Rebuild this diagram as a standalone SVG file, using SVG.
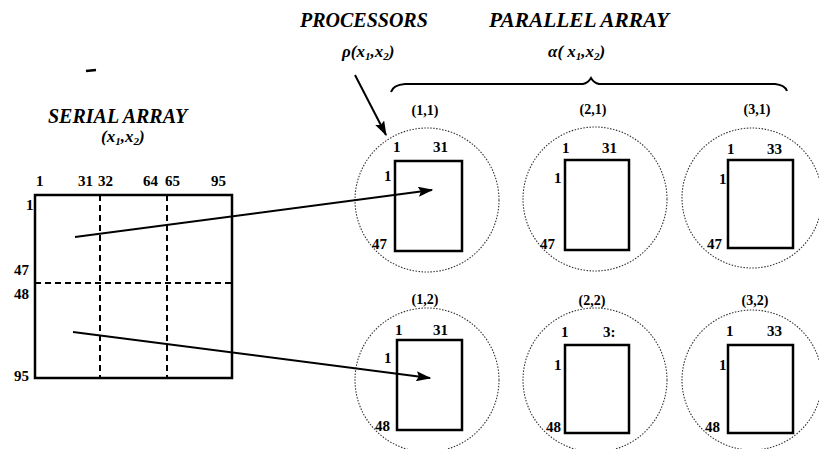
<svg xmlns="http://www.w3.org/2000/svg" width="819" height="449" viewBox="0 0 819 449">
<style>
text{font-family:"Liberation Serif","Times New Roman",serif;fill:#000;font-weight:bold}
.ttl{font-size:20px;font-style:italic}
.sub{font-size:17px;font-style:italic}
.n{font-size:15px}
.lab{font-size:14px}
.box{fill:none;stroke:#000;stroke-width:2.5}
.dash{fill:none;stroke:#000;stroke-width:2;stroke-dasharray:6 4}
.circ{fill:none;stroke:#333;stroke-width:1.1;stroke-dasharray:1.5 1.5}
.arr{fill:none;stroke:#000;stroke-width:2}
</style>
<defs>
<marker id="ah" viewBox="0 0 12 8" refX="11" refY="4" markerWidth="8" markerHeight="5" orient="auto" markerUnits="strokeWidth">
<path d="M0,0 L12,4 L0,8 L2,4 z" fill="#000"/>
</marker>
</defs>
<rect width="819" height="449" fill="#fff"/>

<line x1="86" y1="71" x2="96" y2="70" stroke="#000" stroke-width="2.5"/>

<g id="serial">
<text class="ttl" x="48" y="123">SERIAL ARRAY</text>
<text class="sub" x="101" y="142">(x<tspan font-size="11" dy="3">1</tspan><tspan dy="-3">,x</tspan><tspan font-size="11" dy="3">2</tspan><tspan dy="-3">)</tspan></text>
<rect class="box" x="35" y="195" width="197" height="183"/>
<line class="dash" x1="100" y1="195" x2="100" y2="378"/>
<line class="dash" x1="167" y1="195" x2="167" y2="378"/>
<line class="dash" x1="35" y1="283" x2="232" y2="283"/>
<text class="n" x="36" y="186">1</text>
<text class="n" x="78" y="186">31</text>
<text class="n" x="98" y="186">32</text>
<text class="n" x="143" y="186">64</text>
<text class="n" x="165" y="186">65</text>
<text class="n" x="211" y="186">95</text>
<text class="n" x="26" y="210">1</text>
<text class="n" x="14" y="275">47</text>
<text class="n" x="14" y="299">48</text>
<text class="n" x="14" y="381">95</text>
</g>

<g id="processors-label">
<text class="ttl" x="300" y="27">PROCESSORS</text>
<text class="sub" x="342" y="57">ρ(x<tspan font-size="11" dy="3">1</tspan><tspan dy="-3">,x</tspan><tspan font-size="11" dy="3">2</tspan><tspan dy="-3">)</tspan></text>
</g>

<g id="parallel-label">
<text class="ttl" x="489" y="27" textLength="180" lengthAdjust="spacingAndGlyphs">PARALLEL ARRAY</text>
<text class="sub" x="548" y="57">α( x<tspan font-size="11" dy="3">1</tspan><tspan dy="-3">,x</tspan><tspan font-size="11" dy="3">2</tspan><tspan dy="-3">)</tspan></text>
<path d="M391,92 Q393,85 405,84 L583,84 Q588,83 591,78 Q594,83 599,84 L775,84 Q785,85 787,91" fill="none" stroke="#000" stroke-width="2"/>
</g>

<g id="p11">
<circle class="circ" cx="427" cy="200" r="72"/>
<rect class="box" x="395" y="161" width="67" height="90"/>
<text class="lab" x="425" y="115" text-anchor="middle">(1,1)</text>
<text class="n" x="393" y="152">1</text>
<text class="n" x="433" y="152">31</text>
<text class="n" x="384" y="181">1</text>
<text class="n" x="372" y="249">47</text>
</g>
<g id="p21">
<circle class="circ" cx="595" cy="199" r="72"/>
<rect class="box" x="565" y="160" width="64" height="90"/>
<text class="lab" x="593" y="114" text-anchor="middle">(2,1)</text>
<text class="n" x="562" y="153">1</text>
<text class="n" x="602" y="153">31</text>
<text class="n" x="554" y="183">1</text>
<text class="n" x="540" y="249">47</text>
</g>
<g id="p31">
<circle class="circ" cx="752" cy="198" r="70"/>
<rect class="box" x="728" y="160" width="65" height="88"/>
<text class="lab" x="757" y="114" text-anchor="middle">(3,1)</text>
<text class="n" x="727" y="154">1</text>
<text class="n" x="767" y="154">33</text>
<text class="n" x="719" y="184">1</text>
<text class="n" x="707" y="249">47</text>
</g>
<g id="p12">
<circle class="circ" cx="427" cy="380" r="72"/>
<rect class="box" x="397" y="340" width="65" height="90"/>
<text class="lab" x="425" y="304" text-anchor="middle">(1,2)</text>
<text class="n" x="395" y="335">1</text>
<text class="n" x="433" y="335">31</text>
<text class="n" x="384" y="363">1</text>
<text class="n" x="375" y="431">48</text>
</g>
<g id="p22">
<circle class="circ" cx="595" cy="380" r="72"/>
<rect class="box" x="565" y="345" width="64" height="88"/>
<text class="lab" x="592" y="305" text-anchor="middle">(2,2)</text>
<text class="n" x="561" y="337">1</text>
<text class="n" x="603" y="337">3:</text>
<text class="n" x="554" y="370">1</text>
<text class="n" x="546" y="432">48</text>
</g>
<g id="p32">
<circle class="circ" cx="752" cy="380" r="70"/>
<rect class="box" x="728" y="345" width="65" height="88"/>
<text class="lab" x="755" y="305" text-anchor="middle">(3,2)</text>
<text class="n" x="726" y="336">1</text>
<text class="n" x="767" y="336">33</text>
<text class="n" x="719" y="370">1</text>
<text class="n" x="705" y="432">48</text>
</g>

<g id="connectors">
<line class="arr" x1="75" y1="237" x2="432" y2="190" marker-end="url(#ah)"/>
<line class="arr" x1="73" y1="332" x2="430" y2="378" marker-end="url(#ah)"/>
<line class="arr" x1="355" y1="75" x2="386" y2="135" marker-end="url(#ah)"/>
</g>
</svg>
